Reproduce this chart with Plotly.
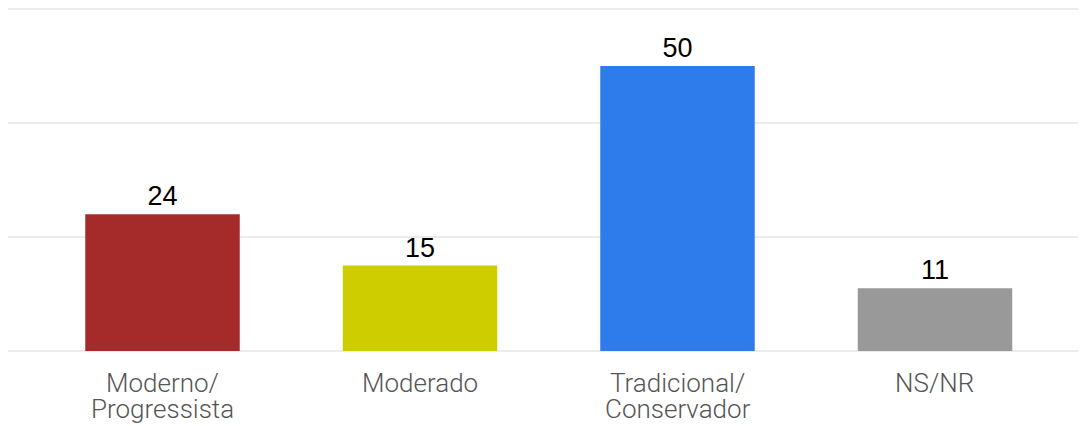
import plotly.graph_objects as go

categories = ["Moderno/ Progressista", "Moderado", "Tradicional/ Conservador", "NS/NR"]
label_lines = [["Moderno/", "Progressista"], ["Moderado"], ["Tradicional/", "Conservador"], ["NS/NR"]]
values = [24, 15, 50, 11]
colors = ["#A52A2A", "#CDCD00", "#2E7BEB", "#999999"]

xs = list(range(len(categories)))

fig = go.Figure(
    go.Bar(
        x=xs,
        y=values,
        marker=dict(color=colors, line=dict(width=0)),
        text=[str(v) for v in values],
        textposition="outside",
        textfont=dict(family="Liberation Sans, Arial", size=27, color="#000000"),
        cliponaxis=False,
        width=0.6,
        hoverinfo="skip",
    )
)

for xi, lines in zip(xs, label_lines):
    for li, line in enumerate(lines):
        fig.add_annotation(
            x=xi, xref="x",
            y=0, yref="paper",
            yanchor="middle", xanchor="center",
            yshift=-32 - 26 * li,
            text=line,
            showarrow=False,
            font=dict(family="Roboto", size=26, color="#555555", weight=300),
        )

fig.update_layout(
    width=1086,
    height=426,
    margin=dict(l=0, r=0, t=0, b=83),
    paper_bgcolor="white",
    plot_bgcolor="white",
    showlegend=False,
    xaxis=dict(
        range=[-0.6, 3.6175],
        tickvals=xs,
        showticklabels=False,
        showgrid=False,
        zeroline=False,
        showline=False,
        ticks="",
    ),
    yaxis=dict(
        range=[0, 60.2],
        tickvals=[0, 20, 40, 60],
        showticklabels=False,
        showgrid=True,
        gridcolor="#EBEBEB",
        gridwidth=2,
        zeroline=True,
        zerolinecolor="#EBEBEB",
        zerolinewidth=2,
        showline=False,
    ),
)

fig.write_html("out.html")
